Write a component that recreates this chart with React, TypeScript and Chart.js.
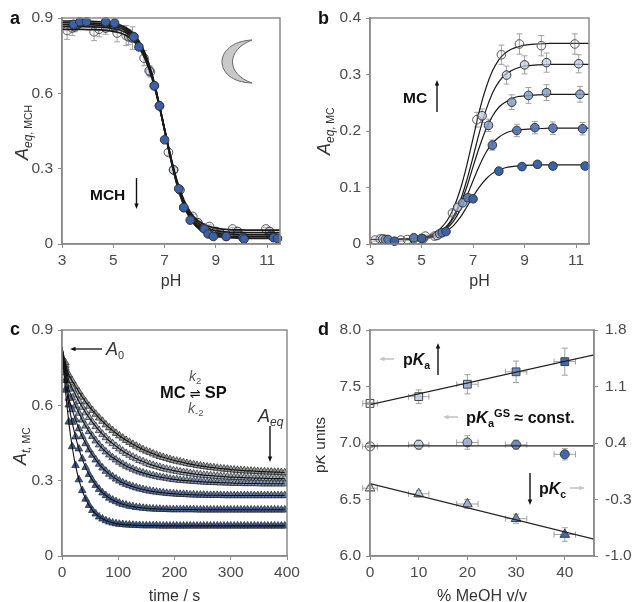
import React, { useEffect, useRef } from "react";
import Chart from "chart.js/auto";

// ---------- Panel a ----------
const phTicks = [3,5,7,9,11];
const phGridA = [3,3.5,4,4.5,5,5.25,5.5,5.75,6,6.25,6.5,6.75,7,7.25,7.5,7.75,8,8.25,8.5,8.75,9,9.5,10,10.5,11,11.5];
const curveA1 = [.855,.855,.854,.853,.847,.841,.830,.813,.782,.734,.663,.567,.455,.343,.247,.176,.128,.097,.080,.069,.063,.057,.056,.055,.055,.055];
const curveA2 = [.866,.866,.865,.864,.858,.852,.841,.822,.791,.742,.669,.570,.455,.341,.242,.169,.120,.089,.070,.060,.053,.047,.046,.045,.045,.045];
const curveA3 = [.874,.874,.873,.872,.866,.860,.848,.830,.798,.747,.673,.572,.455,.338,.237,.163,.112,.080,.062,.051,.044,.039,.037,.036,.036,.036];
const curveA4 = [.881,.881,.880,.878,.872,.867,.855,.836,.803,.752,.676,.574,.455,.335,.233,.157,.106,.073,.054,.043,.037,.031,.029,.028,.028,.028];
const curveA5 = [.888,.888,.887,.885,.879,.873,.861,.842,.809,.757,.680,.576,.455,.334,.230,.153,.101,.068,.049,.038,.031,.025,.023,.022,.022,.022];
const pointsA1 = [[3.2,.85,.035],[3.4,.86,.03],[4.25,.845,.035],[4.45,.855,.03],[5.15,.84,.035],[5.5,.83,.04],[5.75,.82,.045],[6.2,.74,.03],[6.45,.685,.02],[7.15,.365,.012],[7.35,.295,.01],[8.1,.11,.008],[8.75,.07,.006],[9.65,.06,.006],[10.95,.06,.006]];
const pointsA2 = [[3.5,.865,.02],[4.7,.86,.025],[5.6,.825,.03],[6.4,.69,.02],[7.35,.295,.01],[8.3,.085,.006],[9.0,.05,.006],[9.85,.05,.006],[11.1,.05,.006]];
const pointsA3 = [[3.6,.875,.015],[5.05,.865,.02],[5.7,.825,.02],[6.6,.63,.015],[7.6,.215,.008],[8.5,.065,.005],[9.15,.045,.005],[9.85,.04,.005],[11.15,.035,.005]];
const pointsA4 = [[3.7,.88,.012],[4.7,.88,.012],[5.8,.825,.015],[6.8,.55,.012],[7.75,.145,.006],[8.7,.045,.004],[9.4,.03,.004],[10.1,.025,.004],[11.25,.03,.004]];
const pointsA5 = [[3.45,.875,.008],[3.7,.885,.008],[3.95,.885,.008],[4.7,.885,.008],[5.05,.88,.008],[5.8,.825,.01],[6.0,.785,.01],[6.6,.63,.008],[6.8,.55,.008],[7.0,.415,.006],[7.55,.22,.004],[7.75,.145,.004],[8.0,.095,.004],[8.55,.06,.003],[8.7,.04,.003],[8.9,.03,.003],[9.4,.03,.003],[10.05,.025,.003],[10.1,.02,.003],[11.25,.025,.003],[11.4,.022,.003]];

// ---------- Panel b ----------
const phGridB = [3,4,5,5.25,5.5,5.75,6,6.25,6.5,6.75,7,7.25,7.5,7.75,8,8.25,8.5,8.75,9,9.5,10,11,11.5];
const curveB1 = [.008,.008,.012,.014,.019,.028,.042,.064,.096,.138,.187,.236,.276,.306,.326,.338,.345,.349,.352,.354,.355,.355,.355];
const curveB2 = [.008,.008,.011,.013,.016,.023,.033,.050,.076,.112,.154,.198,.237,.267,.287,.300,.307,.312,.315,.317,.318,.318,.318];
const curveB3 = [.008,.008,.011,.012,.016,.022,.031,.047,.070,.100,.137,.172,.203,.226,.242,.251,.257,.261,.262,.264,.265,.265,.265];
const curveB4 = [.008,.008,.010,.012,.015,.020,.028,.041,.060,.084,.112,.139,.162,.178,.189,.196,.200,.202,.203,.204,.205,.205,.205];
const curveB5 = [.008,.008,.010,.011,.013,.017,.024,.033,.047,.065,.084,.101,.115,.125,.131,.135,.137,.138,.139,.140,.140,.140,.140];
const pointsB1 = [[3.2,.007,.002],[3.4,.009,.002],[4.2,.007,.002],[4.45,.008,.002],[5.15,.014,.002],[5.5,.014,.003],[6.2,.055,.005],[7.15,.22,.013],[8.1,.335,.017],[8.8,.354,.018],[9.65,.351,.018],[10.95,.354,.018]];
const pointsB2 = [[3.5,.009,.002],[4.7,.009,.002],[5.6,.015,.003],[6.4,.065,.005],[7.35,.227,.012],[8.3,.299,.016],[9.0,.317,.016],[9.85,.321,.017],[11.1,.319,.016]];
const pointsB3 = [[3.6,.008,.002],[5.05,.009,.002],[5.7,.018,.003],[6.6,.073,.005],[7.6,.21,.011],[8.5,.251,.013],[9.15,.263,.014],[9.85,.268,.014],[11.15,.265,.014]];
const pointsB4 = [[3.7,.008,.002],[4.7,.011,.002],[5.8,.02,.002],[6.8,.082,.004],[7.75,.175,.009],[8.7,.201,.011],[9.4,.206,.011],[10.1,.205,.011],[11.25,.204,.011]];
const pointsB5 = [[3.95,.005,.001],[5.0,.01,.001],[5.95,.022,.002],[7.0,.08,.003],[8.0,.129,.003],[8.9,.137,.004],[9.5,.141,.004],[10.1,.138,.004],[11.35,.138,.004]];

// ---------- Panel c ----------
const timeC = [0,6,12,18,24,30,36,42,48,54,60,66,72,78,84,90,96,102,108,114,120,126,132,138,144,150,156,162,168,174,180,186,192,198,204,210,216,222,228,234,240,246,252,258,264,270,276,282,288,294,300,306,312,318,324,330,336,342,348,354,360,366,372,378,384,390,396];
const curveC1 = [.83,.77,.722,.698,.675,.654,.633,.614,.597,.580,.565,.550,.537,.523,.511,.500,.489,.479,.470,.461,.453,.445,.438,.431,.424,.418,.413,.407,.402,.397,.393,.389,.385,.381,.378,.375,.372,.369,.366,.364,.361,.359,.357,.355,.353,.352,.350,.348,.347,.346,.344,.343,.342,.341,.340,.339,.339,.338,.337,.336,.336,.335,.335,.334,.334,.333,.332];
const curveC2 = [.83,.76,.70,.669,.642,.616,.593,.571,.552,.533,.516,.500,.485,.472,.459,.448,.437,.427,.418,.409,.402,.394,.388,.381,.376,.370,.365,.361,.357,.353,.349,.346,.343,.340,.338,.335,.333,.331,.329,.327,.325,.324,.322,.321,.320,.319,.318,.317,.316,.315,.314,.314,.313,.313,.312,.311,.311,.310,.310,.310,.309,.309,.308,.308,.308,.308,.308];
const curveC3 = [.83,.75,.665,.63,.598,.569,.542,.518,.496,.477,.459,.443,.428,.415,.403,.392,.383,.374,.366,.358,.352,.346,.340,.335,.331,.327,.323,.320,.317,.314,.312,.310,.307,.305,.304,.302,.301,.300,.299,.298,.297,.296,.295,.294,.294,.293,.293,.292,.292,.291,.291,.290,.290,.290,.289,.289,.289,.289,.289,.288,.288,.288,.288,.288,.288,.288,.288];
const curveC4 = [.83,.73,.629,.583,.543,.507,.476,.448,.423,.402,.383,.366,.351,.338,.326,.316,.307,.299,.292,.286,.281,.276,.272,.268,.265,.262,.259,.257,.255,.253,.252,.250,.249,.248,.247,.246,.246,.245,.244,.244,.243,.243,.243,.242,.242,.242,.242,.242,.241,.241,.241,.241,.241,.241,.241,.241,.241,.241,.241,.241,.241,.241,.241,.241,.241,.241,.241];
const curveC5 = [.83,.70,.602,.533,.475,.427,.387,.353,.325,.302,.282,.266,.252,.241,.231,.223,.217,.211,.206,.203,.199,.197,.194,.193,.191,.190,.188,.188,.187,.187,.186,.186,.185,.185,.185,.185,.185,.185,.185,.185,.184,.184,.184,.184,.184,.184,.184,.184,.184,.184,.184,.184,.184,.184,.184,.184,.184,.184,.184,.184,.184,.184,.184,.184,.184,.184,.184];
const curveC6 = [.83,.661,.534,.436,.361,.304,.261,.227,.202,.182,.168,.156,.148,.141,.136,.132,.129,.127,.126,.124,.124,.123,.122,.122,.121,.121,.121,.121,.121,.120,.120,.120,.120,.120,.120,.120,.120,.120,.120,.120,.120,.120,.120,.120,.120,.120,.120,.120,.120,.120,.120,.120,.120,.120,.120,.120,.120,.120,.120,.120,.120,.120,.120,.120,.120,.120,.120];

// ---------- Panel d ----------
const meoh = [0,10,20,30,40];
const pKa = [7.35,7.41,7.52,7.63,7.72];
const pKaYErr = [.01,.06,.085,.095,.12];
const pKaGS = [6.97,6.985,7.005,6.985,6.9];
const pKaGSYErr = [.01,.04,.06,.04,.05];
const pKc = [6.6,6.55,6.46,6.33,6.19];
const pKcYErr = [.02,.03,.04,.04,.06];
const meohXErr = [1.5,2.1,2.2,2.2,2.2];
const fitX = [0,46];
const fitPKa = [7.34,7.78];
const fitPKaGS = [6.975,6.975];
const fitPKc = [6.64,6.15];
const rightTicks = [-1,-0.3,0.4,1.1,1.8];

const SERIES_FILL = ["rgba(225,225,225,0.2)","rgba(190,205,228,0.7)","rgba(135,160,205,0.85)","rgba(85,120,180,0.95)","#3a62a8"];
const FONT = "'Liberation Sans', Arial, sans-serif";
const TICK = "#8a8a8a";
const TXT = "#4a4a4a";

type Part = { t: string; font: string; dy?: number; color?: string };
const f = (size: number, style = "") => `${style} ${size}px ${FONT}`.trim();

function runs(ctx: any, x: number, y: number, parts: Part[], rotate = false, color = "#222") {
  ctx.save();
  ctx.translate(x, y);
  if (rotate) ctx.rotate(-Math.PI / 2);
  ctx.textBaseline = "alphabetic";
  ctx.textAlign = "left";
  let cx = 0;
  for (const p of parts) {
    ctx.font = p.font;
    ctx.fillStyle = p.color || color;
    ctx.fillText(p.t, cx, p.dy || 0);
    cx += ctx.measureText(p.t).width;
  }
  ctx.restore();
}

function arrow(ctx: any, x1: number, y1: number, x2: number, y2: number, color = "#111", lw = 1.5, head = 6) {
  const a = Math.atan2(y2 - y1, x2 - x1);
  ctx.save();
  ctx.strokeStyle = color;
  ctx.fillStyle = color;
  ctx.lineWidth = lw;
  ctx.beginPath();
  ctx.moveTo(x1, y1);
  ctx.lineTo(x2 - Math.cos(a) * head * 0.7, y2 - Math.sin(a) * head * 0.7);
  ctx.stroke();
  ctx.beginPath();
  ctx.moveTo(x2, y2);
  ctx.lineTo(x2 - Math.cos(a - 0.38) * head, y2 - Math.sin(a - 0.38) * head);
  ctx.lineTo(x2 - Math.cos(a + 0.38) * head, y2 - Math.sin(a + 0.38) * head);
  ctx.closePath();
  ctx.fill();
  ctx.restore();
}

const errorBars = {
  id: "errorBars",
  beforeDatasetsDraw(chart: any) {
    const { ctx, scales } = chart;
    ctx.save();
    ctx.strokeStyle = "#a0a0a0";
    ctx.lineWidth = 1;
    const cap = 3;
    chart.data.datasets.forEach((d: any) => {
      if (!d.yErr && !d.xErr) return;
      d.data.forEach((p: any, i: number) => {
        const px = scales.x.getPixelForValue(p.x);
        const py = scales.y.getPixelForValue(p.y);
        if (d.yErr && d.yErr[i]) {
          const top = scales.y.getPixelForValue(p.y + d.yErr[i]);
          const bot = scales.y.getPixelForValue(p.y - d.yErr[i]);
          ctx.beginPath();
          ctx.moveTo(px, top); ctx.lineTo(px, bot);
          ctx.moveTo(px - cap, top); ctx.lineTo(px + cap, top);
          ctx.moveTo(px - cap, bot); ctx.lineTo(px + cap, bot);
          ctx.stroke();
        }
        if (d.xErr && d.xErr[i]) {
          const l = scales.x.getPixelForValue(p.x - d.xErr[i]);
          const r = scales.x.getPixelForValue(p.x + d.xErr[i]);
          ctx.beginPath();
          ctx.moveTo(l, py); ctx.lineTo(r, py);
          ctx.moveTo(l, py - cap); ctx.lineTo(l, py + cap);
          ctx.moveTo(r, py - cap); ctx.lineTo(r, py + cap);
          ctx.stroke();
        }
      });
    });
    ctx.restore();
  },
};

const frame = {
  id: "frame",
  afterDatasetsDraw(chart: any) {
    const { ctx, chartArea: a } = chart;
    ctx.save();
    ctx.strokeStyle = TICK;
    ctx.lineWidth = 1.5;
    ctx.strokeRect(a.left, a.top, a.right - a.left, a.bottom - a.top);
    ctx.restore();
  },
};

function zip(xs: number[], ys: number[]) {
  return xs.map((x, i) => ({ x, y: ys[i] }));
}

function curve(xs: number[], ys: number[], width = 1.7, color = "#1a1a1a") {
  return {
    data: zip(xs, ys), showLine: true, pointRadius: 0, borderColor: color, borderWidth: width,
    cubicInterpolationMode: "monotone", fill: false,
  };
}

function circles(pts: number[][], i: number, r = 4.3) {
  return {
    data: pts.map((p) => ({ x: p[0], y: p[1] })), yErr: pts.map((p) => p[2]),
    showLine: false, clip: false, pointStyle: "circle", pointRadius: r,
    pointBackgroundColor: SERIES_FILL[i], pointBorderColor: i === 0 ? "#555" : "#333", pointBorderWidth: 1,
  };
}

function axes(xOpt: any, yOpt: any, yW: number, xH: number, extra: any = {}) {
  const fit = (w?: number, h?: number) => (s: any) => {
    if (w != null) s.width = w;
    if (h != null) s.height = h;
    s.paddingLeft = s.paddingRight = s.paddingTop = s.paddingBottom = 0;
  };
  const tickFont = { family: FONT, size: 15.5 };
  const common = {
    type: "linear",
    border: { color: TICK, width: 1.5 },
    grid: { display: true, drawOnChartArea: false, drawTicks: true, tickLength: 4, tickColor: TICK, tickWidth: 1 },
  };
  return {
    x: {
      ...common, position: "bottom", min: xOpt.min, max: xOpt.max, afterFit: fit(undefined, xH),
      afterBuildTicks: xOpt.values ? (s: any) => { s.ticks = xOpt.values.map((value: number) => ({ value })); } : undefined,
      ticks: { stepSize: xOpt.step, includeBounds: false, autoSkip: false, maxRotation: 0, font: tickFont, color: TXT, padding: 3 },
      title: { display: true, text: xOpt.title, color: "#333", font: { family: FONT, size: 16 }, padding: { top: 0, bottom: xOpt.titleBottom ?? 0 } },
    },
    y: {
      ...common, position: "left", min: yOpt.min, max: yOpt.max, afterFit: fit(yW),
      ticks: {
        stepSize: yOpt.step, includeBounds: false, autoSkip: false, font: tickFont, color: TXT, padding: 5,
        callback: yOpt.cb || ((v: number) => (v === 0 ? "0" : v.toFixed(1))),
      },
    },
    ...extra,
  };
}

function makeChart(canvas: HTMLCanvasElement, drawOrder: any[], scales: any, pad: any, overlay: (ctx: any, chart: any) => void) {
  return new Chart(canvas, {
    type: "scatter",
    // Chart.js paints the first dataset last, so reverse the painting sequence.
    data: { datasets: [...drawOrder].reverse() },
    options: {
      responsive: false, animation: false, events: [],
      layout: { padding: pad },
      scales,
      plugins: { legend: { display: false }, tooltip: { enabled: false } },
    },
    plugins: [errorBars, frame, { id: "overlay", afterDraw: (c: any) => overlay(c.ctx, c) }],
  } as any);
}

function buildA(cv: HTMLCanvasElement) {
  const ds = [
    circles(pointsA1, 0), circles(pointsA2, 1), circles(pointsA3, 2), circles(pointsA4, 3),
    curve(phGridA, curveA1), curve(phGridA, curveA2), curve(phGridA, curveA3), curve(phGridA, curveA4), curve(phGridA, curveA5),
    circles(pointsA5, 4),
  ];
  return makeChart(cv, ds,
    axes({ min: 3, max: 11.5, values: phTicks, title: "pH" }, { min: 0, max: 0.9, step: 0.3 }, 42, 47),
    { left: 20, right: 36, top: 18, bottom: 10 },
    (ctx) => {
      runs(ctx, 10, 24, [{ t: "a", font: f(18, "bold") }], false, "#111");
      runs(ctx, 90, 200, [{ t: "MCH", font: f(15.5, "bold") }], false, "#111");
      arrow(ctx, 136.5, 178, 136.5, 209, "#111", 1.4);
      runs(ctx, 28, 160, [
        { t: "A", font: f(18, "italic"), color: "#333" },
        { t: "eq", font: f(12, "italic"), dy: 4, color: "#333" },
        { t: ", MCH", font: f(10.5), dy: 4, color: "#333" },
      ], true);
      // crescent moon symbol
      ctx.save();
      ctx.beginPath();
      ctx.moveTo(252, 40);
      ctx.bezierCurveTo(212, 42, 212, 82, 252, 83);
      ctx.bezierCurveTo(226, 74, 226, 50, 252, 40);
      ctx.closePath();
      ctx.fillStyle = "#c9c9c9";
      ctx.strokeStyle = "#666";
      ctx.lineWidth = 1;
      ctx.fill();
      ctx.stroke();
      ctx.restore();
    });
}

function buildB(cv: HTMLCanvasElement) {
  const ds = [
    curve(phGridB, curveB1, 1.2), curve(phGridB, curveB2, 1.2), curve(phGridB, curveB3, 1.2), curve(phGridB, curveB4, 1.2), curve(phGridB, curveB5, 1.2),
    circles(pointsB1, 0), circles(pointsB2, 1), circles(pointsB3, 2), circles(pointsB4, 3), circles(pointsB5, 4),
  ];
  return makeChart(cv, ds,
    axes({ min: 3, max: 11.5, values: phTicks, title: "pH" }, { min: 0, max: 0.4, step: 0.1 }, 42, 47),
    { left: 12, right: 43, top: 18, bottom: 10 },
    (ctx) => {
      runs(ctx, 2, 24, [{ t: "b", font: f(18, "bold") }], false, "#111");
      runs(ctx, 87, 103, [{ t: "MC", font: f(15.5, "bold") }], false, "#111");
      arrow(ctx, 121, 112, 121, 80, "#111", 1.4);
      runs(ctx, 14, 155, [
        { t: "A", font: f(18, "italic"), color: "#333" },
        { t: "eq", font: f(12, "italic"), dy: 4, color: "#333" },
        { t: ", MC", font: f(10.5), dy: 4, color: "#333" },
      ], true);
    });
}

function buildC(cv: HTMLCanvasElement) {
  const tri = (ys: number[], fill: string) => ({
    data: zip(timeC, ys).slice(1), showLine: false, pointStyle: "triangle", pointRadius: 4.4,
    pointBackgroundColor: fill, pointBorderColor: "#222", pointBorderWidth: 0.7,
  });
  const line = (ys: number[]) => ({ ...curve(timeC, ys, 1.1, "#111"), cubicInterpolationMode: "default", tension: 0.2 });
  const ds = [
    tri(curveC1, "#9a9a9a"), tri(curveC2, "#a9b3c4"), tri(curveC3, "#8296b8"), tri(curveC4, "#5c78aa"), tri(curveC5, "#43659f"), tri(curveC6, "#345a9c"),
    line(curveC1), line(curveC2), line(curveC3), line(curveC4), line(curveC5), line(curveC6),
  ];
  return makeChart(cv, ds,
    axes({ min: 0, max: 400, step: 100, title: "time / s", titleBottom: -4 }, { min: 0, max: 0.9, step: 0.3 }, 42, 46),
    { left: 20, right: 29, top: 29, bottom: 0 },
    (ctx) => {
      runs(ctx, 10, 34, [{ t: "c", font: f(18, "bold") }], false, "#111");
      arrow(ctx, 102, 48, 70, 48, "#111", 1.3);
      runs(ctx, 106, 54, [{ t: "A", font: f(18, "italic"), color: "#333" }, { t: "0", font: f(11), dy: 4, color: "#333" }]);
      runs(ctx, 160, 97, [
        { t: "MC", font: f(16.5, "bold") },
        { t: " ⇌ ", font: "13px 'DejaVu Sans'" },
        { t: "SP", font: f(16.5, "bold") },
      ], false, "#111");
      runs(ctx, 189, 80, [{ t: "k", font: f(14, "italic"), color: "#555" }, { t: "2", font: f(9.5), dy: 3, color: "#555" }]);
      runs(ctx, 188, 112, [{ t: "k", font: f(14, "italic"), color: "#555" }, { t: "-2", font: f(9.5), dy: 3, color: "#555" }]);
      runs(ctx, 258, 121, [{ t: "A", font: f(18, "italic"), color: "#333" }, { t: "eq", font: f(12, "italic"), dy: 4, color: "#333" }]);
      arrow(ctx, 270, 125, 270, 161, "#111", 1.4);
      runs(ctx, 26, 164, [
        { t: "A", font: f(18, "italic"), color: "#333" },
        { t: "t,", font: f(12, "italic"), dy: 4, color: "#333" },
        { t: " MC", font: f(10.5), dy: 4, color: "#333" },
      ], true);
    });
}

function buildD(cv: HTMLCanvasElement) {
  const DFILL = ["rgba(255,255,255,0)", "rgba(190,205,228,0.8)", "rgba(150,172,212,0.9)", "rgba(100,135,195,0.95)", "#3f68b0"];
  const marker = (ys: number[], err: number[], style: string, r: number) => ({
    data: zip(meoh, ys), yErr: err, xErr: meohXErr, showLine: false, clip: false, pointStyle: style, pointRadius: r,
    pointBackgroundColor: DFILL, pointBorderColor: "#444", pointBorderWidth: 1,
  });
  const fit = (ys: number[]) => ({ ...curve(fitX, ys, 1.3, "#222"), cubicInterpolationMode: "default" });
  const ds = [
    marker(pKa, pKaYErr, "rect", 5.5), marker(pKaGS, pKaGSYErr, "circle", 4.5), marker(pKc, pKcYErr, "triangle", 5.6),
    fit(fitPKa), fit(fitPKaGS), fit(fitPKc),
  ];
  const fitW = (s: any) => { s.width = 38; s.paddingLeft = s.paddingRight = s.paddingTop = s.paddingBottom = 0; };
  const extra = {
    y1: {
      type: "linear", position: "right", min: rightTicks[0], max: rightTicks[rightTicks.length - 1], afterFit: fitW,
      border: { color: TICK, width: 1.5 },
      grid: { display: true, drawOnChartArea: false, tickLength: 4, tickColor: TICK, tickWidth: 1 },
      afterBuildTicks: (s: any) => { s.ticks = rightTicks.map((value) => ({ value })); },
      ticks: { autoSkip: false, font: { family: FONT, size: 15.5 }, color: TXT, padding: 7, callback: (v: number) => v.toFixed(1) },
    },
  };
  return makeChart(cv, ds,
    axes({ min: 0, max: 46, step: 10, title: "% MeOH v/v", titleBottom: -4 }, { min: 6, max: 8, step: 0.5, cb: (v: number) => v.toFixed(1) }, 42, 46, extra),
    { left: 12, right: 0, top: 29, bottom: 0 },
    (ctx) => {
      runs(ctx, 2, 34, [{ t: "d", font: f(18, "bold") }], false, "#111");
      runs(ctx, 9, 172, [
        { t: "p", font: f(15.5), color: "#333" },
        { t: "K", font: f(15.5, "italic"), color: "#333" },
        { t: " units", font: f(15.5), color: "#333" },
      ], true);
      arrow(ctx, 78, 58, 63, 58, "#c4c4c4", 1.6);
      runs(ctx, 87, 64, [
        { t: "p", font: f(16, "bold") }, { t: "K", font: f(16, "bold italic") }, { t: "a", font: f(10.5, "bold"), dy: 4 },
      ], false, "#111");
      arrow(ctx, 122, 74, 122, 42, "#111", 1.4);
      arrow(ctx, 142, 116, 127, 116, "#c4c4c4", 1.6);
      runs(ctx, 150, 122, [
        { t: "p", font: f(16.5, "bold") }, { t: "K", font: f(16.5, "bold italic") }, { t: "a", font: f(11, "bold"), dy: 4 },
        { t: "GS", font: f(11, "bold"), dy: -6 }, { t: " ≈ const.", font: f(16, "bold") },
      ], false, "#111");
      arrow(ctx, 214, 172, 214, 204, "#111", 1.4);
      runs(ctx, 223, 193, [
        { t: "p", font: f(16, "bold") }, { t: "K", font: f(16, "bold italic") }, { t: "c", font: f(10.5, "bold"), dy: 4 },
      ], false, "#111");
      arrow(ctx, 254, 187, 269, 187, "#c4c4c4", 1.6);
    });
}

const PANELS = [
  { build: buildA, left: 0, top: 0 },
  { build: buildB, left: 316, top: 0 },
  { build: buildC, left: 0, top: 301 },
  { build: buildD, left: 316, top: 301 },
];

function Panel({ build, left, top }: any) {
  const ref = useRef<HTMLCanvasElement>(null);
  useEffect(() => {
    const chart = build(ref.current);
    return () => chart.destroy();
  }, [build]);
  return (
    <canvas ref={ref} width={316} height={301}
      style={{ position: "absolute", left, top, width: 316, height: 301, display: "block", filter: "blur(0.45px)" }} />
  );
}

export default function App() {
  return (
    <div style={{ position: "absolute", left: 0, top: 0, width: 632, height: 602, overflow: "hidden", background: "#fff" }}>
      {PANELS.map((p, i) => <Panel key={i} {...p} />)}
    </div>
  );
}
